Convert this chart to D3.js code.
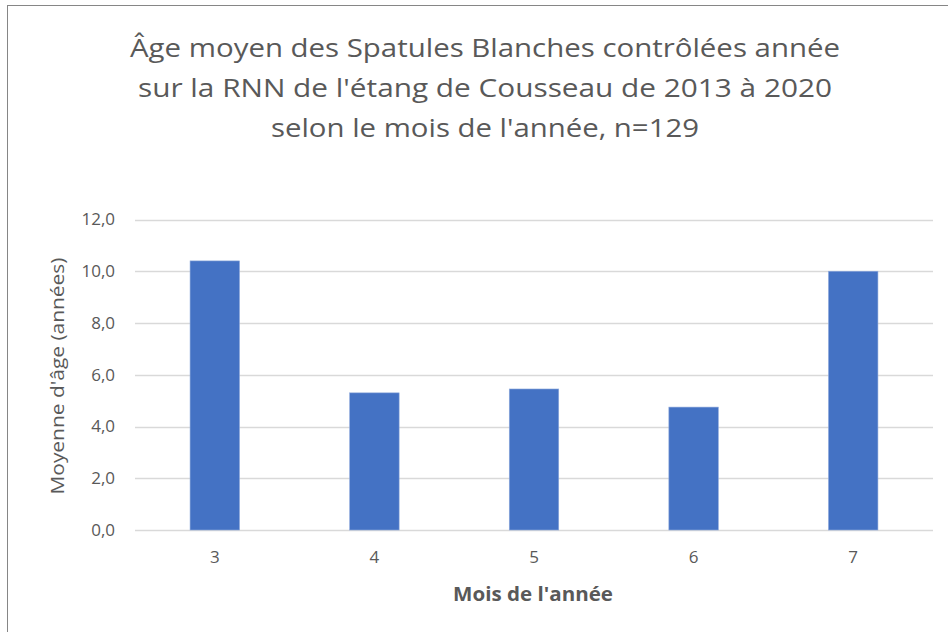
<!DOCTYPE html>
<html>
<head>
<meta charset="utf-8">
<script src="https://cdn.jsdelivr.net/npm/d3@7"></script>
<style>
  body { margin: 0; background: #fff; }
  text { font-family: "Open Sans", "Noto Sans", sans-serif; fill: #595959; }
</style>
</head>
<body>
<svg id="chart" width="948" height="632"></svg>
<script>
var months = ["3", "4", "5", "6", "7"];
var ages = [10.4, 5.3, 5.45, 4.75, 10.0];
var yTicks = [0, 2, 4, 6, 8, 10, 12];
var titleLines = [
  "Âge moyen des Spatules Blanches contrôlées année",
  "sur la RNN de l'étang de Cousseau  de 2013 à 2020",
  "selon le mois de l'année, n=129"
];

var svg = d3.select("#chart");
var plotLeft = 135, plotRight = 933, plotTop = 219.5, plotBottom = 530;

// chart frame (runs off the right and bottom of the picture)
svg.append("rect")
  .attr("x", 7.5).attr("y", 5.5)
  .attr("width", 960).attr("height", 660)
  .attr("fill", "#fff").attr("stroke", "#868686").attr("stroke-width", 1);

var x = d3.scaleBand().domain(months).range([plotLeft, plotRight]).paddingInner(0.69).paddingOuter(0.345);
var y = d3.scaleLinear().domain([0, 12]).range([plotBottom, plotTop]);

// gridlines
svg.append("g").selectAll("line").data(yTicks).enter().append("line")
  .attr("x1", plotLeft).attr("x2", plotRight)
  .attr("y1", function(d) { return Math.round(y(d)) + 0.5; })
  .attr("y2", function(d) { return Math.round(y(d)) + 0.5; })
  .attr("stroke", "#d9d9d9").attr("stroke-width", 1.5);

// bars
svg.append("g").selectAll("rect").data(ages).enter().append("rect")
  .attr("x", function(d, i) { return x(months[i]); })
  .attr("y", function(d) { return y(d); })
  .attr("width", x.bandwidth())
  .attr("height", function(d) { return y(0) - y(d); })
  .attr("fill", "#4472c4")
  .attr("stroke", "#8faadc").attr("stroke-width", 0.6);

// y axis labels
var yAxis = d3.axisLeft(y).tickValues(yTicks).tickSize(0).tickPadding(20)
  .tickFormat(function(d) { return d3.format(".1f")(d).replace(".", ","); });
var gy = svg.append("g").attr("transform", "translate(" + plotLeft + ",0)").call(yAxis);
gy.select(".domain").remove();
gy.selectAll("text").style("font-size", "17px").attr("fill", "#595959")
  .style("font-family", "'Open Sans', sans-serif");

// x axis labels
var xAxis = d3.axisBottom(x).tickSize(0).tickPadding(21);
var gx = svg.append("g").attr("transform", "translate(0," + plotBottom + ")").call(xAxis);
gx.select(".domain").remove();
gx.selectAll("text").style("font-size", "17px").attr("fill", "#595959")
  .style("font-family", "'Open Sans', sans-serif");

// axis titles
svg.append("text")
  .attr("transform", "translate(64," + 376 + ") rotate(-90)")
  .attr("text-anchor", "middle")
  .attr("textLength", 237).attr("lengthAdjust", "spacingAndGlyphs")
  .style("font-size", "19px")
  .text("Moyenne d'âge (années)");

svg.append("text")
  .attr("x", 533).attr("y", 601)
  .attr("text-anchor", "middle")
  .attr("textLength", 160).attr("lengthAdjust", "spacingAndGlyphs")
  .style("font-size", "19px").style("font-weight", "bold")
  .text("Mois de l'année");

// title
var tWidths = [710, 694, 428];
titleLines.forEach(function(line, i) {
  svg.append("text")
    .attr("x", 485).attr("y", 57 + i * 40)
    .attr("text-anchor", "middle")
    .attr("textLength", tWidths[i]).attr("lengthAdjust", "spacingAndGlyphs")
    .style("font-size", "25px")
    .text(line);
});
</script>
</body>
</html>
